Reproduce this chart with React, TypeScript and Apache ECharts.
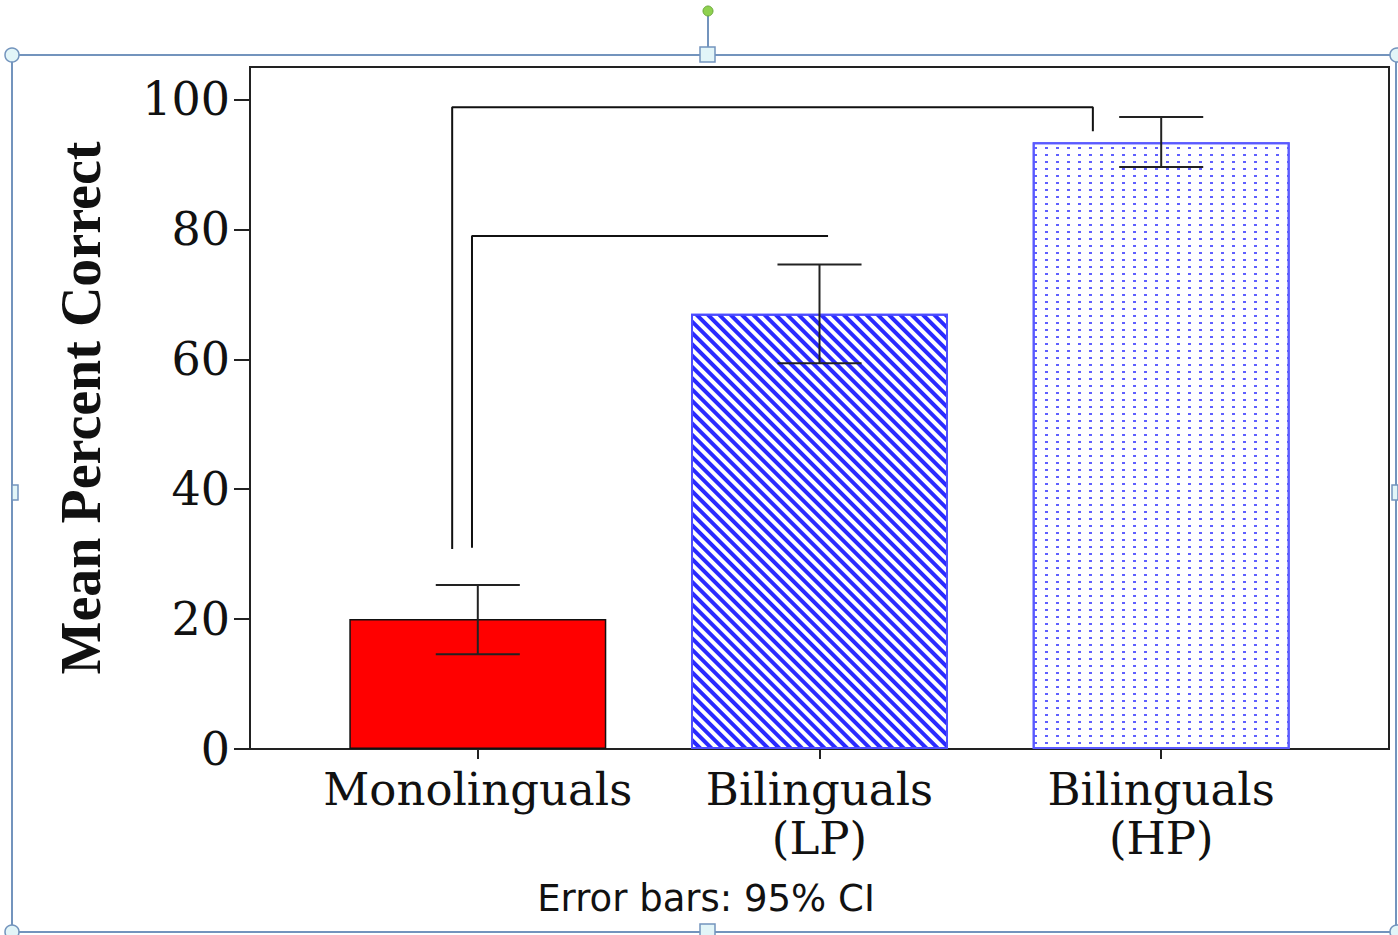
import React, { useEffect, useRef } from "react";
import * as echarts from "echarts";

// ---- data ----
const categories = ["Monolinguals", "Bilinguals\n(LP)", "Bilinguals\n(HP)"];
const positions = [1, 2, 3];
const means = [20.0, 67.0, 93.4];
const ciLow = [14.6, 59.4, 89.6];
const ciHigh = [25.25, 74.6, 97.3];
const yTicks = [0, 20, 40, 60, 80, 100];
// significance brackets: [x, y] points
const bracketOuter = [[0.925, 30.8], [0.925, 98.8], [2.8, 98.8], [2.8, 95.1]];
const bracketInner = [[0.983, 31.0], [0.983, 79.0], [2.025, 79.0]];
const footnote = "Error bars: 95% CI";
const yTitle = "Mean Percent Correct";

const FRAME = "#7394bd";

export default function App() {
  const ref = useRef<HTMLDivElement>(null);
  useEffect(() => {
    if (!ref.current) return;
    const chart = echarts.init(ref.current, null, { renderer: "svg" });

    const barStyles = [
      { color: "#ff0000", borderColor: "#111", borderWidth: 1.5 },
      {
        color: "#ffffff",
        borderColor: "#4d4dff",
        borderWidth: 2,
        decal: {
          symbol: "rect",
          symbolSize: 1,
          color: "#2a2aff",
          backgroundColor: "rgba(0,0,0,0)",
          dashArrayX: [1, 0],
          dashArrayY: [4, 3.5],
          rotation: Math.PI / 4,
        },
      },
      {
        color: "#ffffff",
        borderColor: "#5a5aff",
        borderWidth: 2,
        decal: {
          symbol: "rect",
          symbolSize: 1,
          color: "#6060ff",
          backgroundColor: "rgba(0,0,0,0)",
          dashArrayX: [3, 8],
          dashArrayY: [2, 4.5],
          rotation: 0,
        },
      },
    ];

    const option: any = {
      animation: false,
      grid: {
        left: 250,
        top: 67,
        right: 9,
        bottom: 186,
        show: true,
        borderColor: "#222",
        borderWidth: 2,
        backgroundColor: "rgba(0,0,0,0)",
      },
      xAxis: {
        type: "value",
        min: 1 / 3,
        max: 11 / 3,
        axisLine: { show: true, lineStyle: { color: "#222", width: 2 } },
        axisTick: { show: true, length: 10, customValues: positions, lineStyle: { color: "#222", width: 2 } },
        axisLabel: {
          customValues: positions,
          formatter: (v: number) => {
            const i = positions.indexOf(Math.round(v));
            return i >= 0 ? categories[i] : "";
          },
          fontFamily: "DejaVu Serif",
          fontSize: 45,
          lineHeight: 49,
          color: "#111",
          margin: 16,
        },
        splitLine: { show: false },
      },
      yAxis: {
        type: "value",
        min: 0,
        max: 105,
        name: yTitle,
        nameLocation: "middle",
        nameRotate: 90,
        nameGap: 141,
        nameTextStyle: {
          fontFamily: "Liberation Serif",
          fontWeight: "bold",
          fontSize: 56,
          color: "#111",
        },
        axisLine: { show: true, lineStyle: { color: "#222", width: 2 } },
        axisTick: { show: true, length: 16, customValues: yTicks, lineStyle: { color: "#222", width: 2 } },
        axisLabel: {
          customValues: yTicks,
          fontFamily: "DejaVu Serif",
          fontSize: 46,
          color: "#111",
          margin: 20,
        },
        splitLine: { show: false },
      },
      series: [
        {
          type: "bar",
          barWidth: 257,
          data: positions.map((p, i) => ({ value: [p, means[i]], itemStyle: barStyles[i] })),
          z: 2,
        },
        {
          type: "custom",
          z: 5,
          data: positions.map((p, i) => [p, ciLow[i], ciHigh[i]]),
          renderItem: (params: any, api: any) => {
            const x = api.value(0);
            const lo = api.coord([x, api.value(1)]);
            const hi = api.coord([x, api.value(2)]);
            const capL = api.coord([x - 0.123, 0])[0];
            const capR = api.coord([x + 0.123, 0])[0];
            const style = { stroke: "#222", lineWidth: 2 };
            return {
              type: "group",
              children: [
                { type: "line", shape: { x1: lo[0], y1: lo[1], x2: hi[0], y2: hi[1] }, style },
                { type: "line", shape: { x1: capL, y1: hi[1], x2: capR, y2: hi[1] }, style },
                { type: "line", shape: { x1: capL, y1: lo[1], x2: capR, y2: lo[1] }, style },
              ],
            };
          },
        },
        {
          type: "line",
          z: 6,
          data: bracketOuter,
          symbol: "none",
          lineStyle: { color: "#111", width: 2 },
        },
        {
          type: "line",
          z: 6,
          data: bracketInner,
          symbol: "none",
          lineStyle: { color: "#111", width: 2 },
        },
      ],
      graphic: [
        {
          type: "text",
          x: 706,
          y: 898,
          style: {
            text: footnote,
            fontFamily: "DejaVu Sans",
            fontSize: 37,
            fill: "#111",
            textAlign: "center",
            textVerticalAlign: "middle",
          },
        },
        // selection frame decoration
        { type: "rect", shape: { x: 12, y: 55, width: 1384, height: 877 }, style: { fill: "none", stroke: FRAME, lineWidth: 2 }, z: 100 },
        { type: "line", shape: { x1: 708, y1: 13, x2: 708, y2: 48 }, style: { stroke: FRAME, lineWidth: 2 }, z: 100 },
        { type: "circle", shape: { cx: 708, cy: 11, r: 5 }, style: { fill: "#8fd14f", stroke: "#6aa83a", lineWidth: 1 }, z: 101 },
        { type: "circle", shape: { cx: 12, cy: 55, r: 7 }, style: { fill: "#e2f5f8", stroke: FRAME, lineWidth: 1.5 }, z: 101 },
        { type: "circle", shape: { cx: 1397, cy: 55, r: 7 }, style: { fill: "#e2f5f8", stroke: FRAME, lineWidth: 1.5 }, z: 101 },
        { type: "circle", shape: { cx: 12, cy: 932, r: 7 }, style: { fill: "#e2f5f8", stroke: FRAME, lineWidth: 1.5 }, z: 101 },
        { type: "circle", shape: { cx: 1397, cy: 932, r: 7 }, style: { fill: "#e2f5f8", stroke: FRAME, lineWidth: 1.5 }, z: 101 },
        { type: "rect", shape: { x: 700, y: 47, width: 15, height: 15 }, style: { fill: "#e2f5f8", stroke: FRAME, lineWidth: 1.5 }, z: 101 },
        { type: "rect", shape: { x: 700, y: 924, width: 15, height: 15 }, style: { fill: "#e2f5f8", stroke: FRAME, lineWidth: 1.5 }, z: 101 },
        { type: "rect", shape: { x: 12, y: 485, width: 6, height: 15 }, style: { fill: "#e2f5f8", stroke: FRAME, lineWidth: 1.5 }, z: 101 },
        { type: "rect", shape: { x: 1392, y: 485, width: 6, height: 15 }, style: { fill: "#e2f5f8", stroke: FRAME, lineWidth: 1.5 }, z: 101 },
      ],
    };
    chart.setOption(option);
    return () => chart.dispose();
  }, []);
  return (
    <div
      ref={ref}
      style={{ position: "absolute", left: 0, top: 0, width: 1398, height: 935, background: "#fff" }}
    />
  );
}
